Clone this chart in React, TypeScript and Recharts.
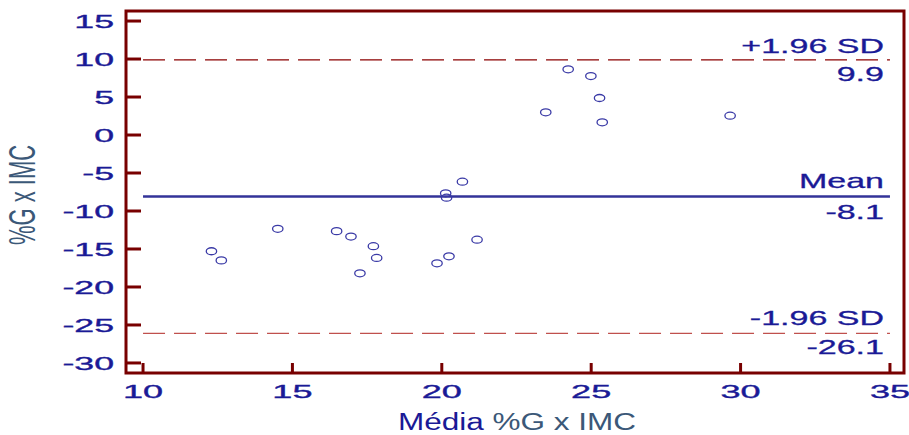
import React from 'react';
import { ScatterChart, Scatter, XAxis, YAxis, ReferenceLine, ReferenceArea } from 'recharts';

// ---- data ----
const meanValues = [12.29, 12.62, 14.51, 16.48, 16.96, 17.71, 17.82, 17.26, 19.84, 20.24, 20.13, 20.16, 20.69, 21.18, 23.48, 24.23, 24.99, 25.28, 25.37, 29.65];
const diffValues = [-15.3, -16.5, -12.35, -12.65, -13.36, -14.63, -16.18, -18.2, -16.88, -15.96, -7.67, -8.25, -6.14, -13.78, 2.99, 8.64, 7.76, 4.87, 1.67, 2.54];
const xTicks = [10, 15, 20, 25, 30, 35];
const yTicks = [-30, -25, -20, -15, -10, -5, 0, 5, 10, 15];
const xDomain = [9.43, 35.47];
const yDomain = [-31.32, 16.32];
const lineStart = 10;
const lineEnd = 35;
const upperLimit = 9.9;
const meanDiff = -8.1;
const lowerLimit = -26.1;
const upperLabels = ['+1.96 SD', '9.9'];
const meanLabels = ['Mean', '-8.1'];
const lowerLabels = ['-1.96 SD', '-26.1'];
const xTitleParts = ['Média', '%G x IMC'];
const yTitle = '%G x IMC';

const points = meanValues.map((x, i) => ({ x, y: diffValues[i] }));

// ---- style ----
const FONT = 'Liberation Sans, Arial, sans-serif';
const FRAME = '#780000';
const NAVY = '#1a1a96';
const SLATE = '#3b5878';
const POINT = '#3a3aa6';

const YTick = (props: any) => {
  const { x, y, payload } = props;
  return (
    <g>
      <line x1={x + 11} x2={x + 26} y1={y} y2={y} stroke={FRAME} strokeWidth={3} />
      <text transform={`translate(${x - 1},${y + 7}) scale(1.88,1)`} textAnchor="end" fontSize={19} fill={NAVY} stroke={NAVY} strokeWidth={0.35} fontFamily={FONT}>
        {String(payload.value)}
      </text>
    </g>
  );
};

const XTick = (props: any) => {
  const { x, y, payload } = props;
  return (
    <g>
      <line x1={x} x2={x} y1={y - 11} y2={y - 21} stroke={FRAME} strokeWidth={3} />
      <text transform={`translate(${x},${y + 14}) scale(1.9,1)`} textAnchor="middle" fontSize={19} fill={NAVY} stroke={NAVY} strokeWidth={0.35} fontFamily={FONT}>
        {String(payload.value)}
      </text>
    </g>
  );
};

const makeLabel = (labels: string[], dyTop: number, dyBottom: number) => (props: any) => {
  const vb = props.viewBox || {};
  const rx = vb.x + vb.width - 6;
  const y = vb.y;
  return (
    <g>
      <text transform={`translate(${rx},${y + dyTop}) scale(1.7,1)`} textAnchor="end" fontSize={20} fill={NAVY} stroke={NAVY} strokeWidth={0.3} fontFamily={FONT}>
        {labels[0]}
      </text>
      <text transform={`translate(${rx},${y + dyBottom}) scale(1.7,1)`} textAnchor="end" fontSize={20} fill={NAVY} stroke={NAVY} strokeWidth={0.3} fontFamily={FONT}>
        {labels[1]}
      </text>
    </g>
  );
};

const Ring = (props: any) => {
  const { cx, cy } = props;
  return <ellipse cx={cx} cy={cy} rx={5.2} ry={3.5} fill="none" stroke={POINT} strokeWidth={1.3} />;
};

export default function App() {
  return (
    <div style={{ position: 'absolute', left: 0, top: 0, width: 909, height: 435, background: '#fff' }}>
      <ScatterChart width={909} height={435} margin={{ top: 11, right: 5, bottom: 0, left: 0 }}>
        <XAxis
          type="number"
          dataKey="x"
          domain={xDomain}
          ticks={xTicks}
          allowDataOverflow
          height={62}
          axisLine={false}
          tickLine={false}
          tickSize={0}
          tickMargin={11}
          tick={<XTick />}
          interval={0}
        />
        <YAxis
          type="number"
          dataKey="y"
          domain={yDomain}
          ticks={yTicks}
          allowDataOverflow
          width={126}
          axisLine={false}
          tickLine={false}
          tickSize={0}
          tickMargin={11}
          tick={<YTick />}
          interval={0}
        />
        <ReferenceArea x1={xDomain[0]} x2={xDomain[1]} y1={yDomain[0]} y2={yDomain[1]} fill="none" stroke={FRAME} strokeWidth={3} ifOverflow="visible" />
        <ReferenceLine
          segment={[{ x: lineStart, y: upperLimit }, { x: lineEnd, y: upperLimit }]}
          stroke="#8b0000"
          strokeWidth={1.3}
          strokeDasharray="22 9"
          ifOverflow="visible"
          label={makeLabel(upperLabels, -7, 21)}
        />
        <ReferenceLine
          segment={[{ x: lineStart, y: meanDiff }, { x: lineEnd, y: meanDiff }]}
          stroke="#333399"
          strokeWidth={2.6}
          ifOverflow="visible"
          label={makeLabel(meanLabels, -9, 22)}
        />
        <ReferenceLine
          segment={[{ x: lineStart, y: lowerLimit }, { x: lineEnd, y: lowerLimit }]}
          stroke="#c0504d"
          strokeWidth={1.2}
          strokeDasharray="22 9"
          ifOverflow="visible"
          label={makeLabel(lowerLabels, -8, 21)}
        />
        <Scatter data={points} shape={<Ring />} isAnimationActive={false} />
      </ScatterChart>
      <svg width={909} height={435} style={{ position: 'absolute', left: 0, top: 0, pointerEvents: 'none' }}>
        <text transform="translate(517,430) scale(1.37,1)" textAnchor="middle" fontSize={23} fontFamily={FONT}>
          <tspan fill={NAVY}>{xTitleParts[0]}</tspan>
          <tspan fill={SLATE}>{' ' + xTitleParts[1]}</tspan>
        </text>
        <text transform="translate(35,195) rotate(-90) scale(1,1.7)" textAnchor="middle" fontSize={22} fill={SLATE} fontFamily={FONT}>
          {yTitle}
        </text>
      </svg>
    </div>
  );
}
